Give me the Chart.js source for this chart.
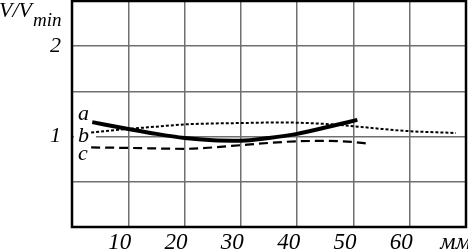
<!DOCTYPE html>
<html><head><meta charset="utf-8">
<script src="https://cdn.jsdelivr.net/npm/chart.js@4.4.0/dist/chart.umd.min.js"></script>
<style>html,body{margin:0;padding:0;background:#fff;}canvas{display:block;}</style>
</head><body>
<canvas id="c" width="468" height="252"></canvas>
<script>
// Data (x in mm, y = V/Vmin)
const xTicks = [0, 10, 20, 30, 40, 50, 60, 70];
const xTickLabels = ['', '10', '20', '30', '40', '50', '60', ''];
const yTickLabels = {1: '1', 2: '2'};
const seriesNames = ['a', 'b', 'c'];
const xA = [3.6, 10, 15, 20, 25, 30, 35, 40, 45, 50.7];
const yA = [1.16, 1.085, 1.03, 0.985, 0.96, 0.955, 0.985, 1.03, 1.10, 1.185];
const xB = [3.4, 10, 15, 20, 25, 30, 37, 45, 50, 55, 60, 68.2];
const yB = [1.045, 1.085, 1.11, 1.135, 1.145, 1.15, 1.157, 1.14, 1.115, 1.085, 1.06, 1.04];
const xC = [3.4, 10, 20, 25, 30, 35, 40, 45, 50, 52.2];
const yC = [0.88, 0.875, 0.865, 0.88, 0.905, 0.93, 0.948, 0.952, 0.94, 0.925];

const toPts = (xs, ys) => xs.map((x, i) => ({x: x, y: ys[i]}));
const FONT = 'Liberation Serif';

const textPlugin = {
  id: 'texts',
  beforeDatasetsDraw(chart) {
    const ctx = chart.ctx, ca = chart.chartArea, ys = chart.scales.y;
    ctx.save();
    ctx.fillStyle = '#fff';
    const t = ys.getPixelForValue(1.1), b = ys.getPixelForValue(0.95);
    ctx.fillRect(ca.left + 2, t, 22, b - t);
    ctx.restore();
  },
  afterDraw(chart) {
    const ctx = chart.ctx, ca = chart.chartArea;
    ctx.save();
    ctx.strokeStyle = '#000';
    ctx.lineWidth = 2.5;
    ctx.strokeRect(ca.left, ca.top, ca.right - ca.left, ca.bottom - ca.top);
    ctx.fillStyle = '#000';
    ctx.textBaseline = 'alphabetic';
    ctx.font = 'italic 22px "' + FONT + '"';
    ctx.textAlign = 'left';
    ctx.fillText('V/V', -1, 17);
    const w = ctx.measureText('V/V').width;
    ctx.font = 'italic 19px "' + FONT + '"';
    ctx.fillText('min', w, 26);
    ctx.font = 'italic 24px "' + FONT + '"';
    ctx.textAlign = 'right';
    ctx.fillText('мм', 471, 249);
    ctx.font = 'italic 22px "' + FONT + '"';
    ctx.textAlign = 'left';
    const lx = ca.left + 6;
    ctx.fillText(seriesNames[0], lx, 120);
    ctx.fillText(seriesNames[1], lx, 142);
    ctx.fillText(seriesNames[2], lx, 160);
    ctx.restore();
  }
};

new Chart(document.getElementById('c'), {
  type: 'scatter',
  data: {
    datasets: [
      {label: 'a', data: toPts(xA, yA), showLine: true, borderColor: '#000', borderWidth: 4, pointRadius: 0, cubicInterpolationMode: 'monotone', fill: false},
      {label: 'b', data: toPts(xB, yB), showLine: true, borderColor: '#000', borderWidth: 2, borderDash: [3, 2], pointRadius: 0, cubicInterpolationMode: 'monotone', fill: false},
      {label: 'c', data: toPts(xC, yC), showLine: true, borderColor: '#000', borderWidth: 2.2, borderDash: [9, 5], pointRadius: 0, cubicInterpolationMode: 'monotone', fill: false}
    ]
  },
  options: {
    responsive: false,
    animation: false,
    devicePixelRatio: 1,
    layout: {padding: {top: 1, right: 2, left: 0, bottom: 0}},
    plugins: {legend: {display: false}, tooltip: {enabled: false}},
    scales: {
      x: {
        type: 'linear', min: 0, max: 70,
        afterBuildTicks: s => { s.ticks = xTicks.map(v => ({value: v})); },
        afterFit: s => { s.height = 25; s.paddingLeft = 0; s.paddingRight = 0; },
        border: {display: false},
        grid: {color: '#707070', lineWidth: 1.5, drawTicks: false},
        ticks: {
          autoSkip: false, maxRotation: 0, padding: 2, color: '#000', align: 'end', labelOffset: 3,
          font: {family: FONT, style: 'italic', size: 23},
          callback: (v) => { const i = xTicks.indexOf(v); return i >= 0 ? xTickLabels[i] : ''; }
        }
      },
      y: {
        min: 0, max: 2.5,
        ticks: {
          stepSize: 0.5, padding: 11, color: '#000',
          font: {family: FONT, style: 'italic', size: 22},
          callback: (v) => yTickLabels[v] || ''
        },
        afterFit: s => { s.width = 72; s.paddingTop = 0; s.paddingBottom = 0; },
        border: {display: false},
        grid: {color: '#707070', lineWidth: 1.5, drawTicks: false}
      }
    }
  },
  plugins: [textPlugin]
});
</script>
</body></html>
